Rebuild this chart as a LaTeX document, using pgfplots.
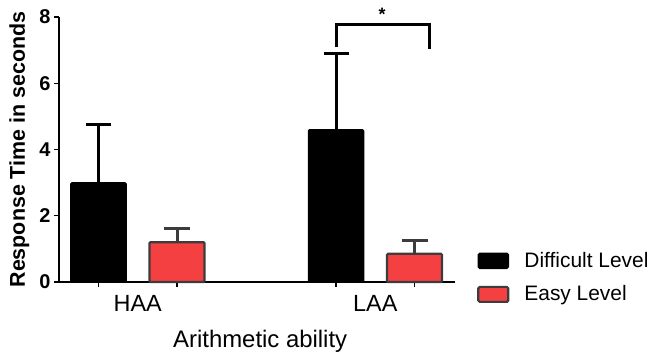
\documentclass[border=0pt]{standalone}
\usepackage{fontspec}
\setmainfont{Liberation Sans}
\usepackage{pgfplots}
\pgfplotsset{compat=1.18}
\definecolor{easyred}{RGB}{244,64,64}
\definecolor{edgegray}{RGB}{60,60,60}
\begin{document}
\begin{tikzpicture}
\begin{axis}[
  at={(0,0)}, anchor=south west,
  scale only axis, width=396bp, height=265bp,
  xmin=0, xmax=396, ymin=0, ymax=8,
  clip=false,
  axis x line=bottom, axis y line=left,
  axis line style={-, line width=1.4bp, black},
  tick align=outside,
  major tick length=5bp,
  /pgf/number format/assume math mode=true,
  ytick={0,2,4,6,8},
  yticklabel style={font=\fontsize{20}{24}\selectfont\bfseries},
  y tick style={line width=1.4bp, black},
  xtick={39.5,118,277,355.5},
  xticklabels={},
  x tick style={line width=1.4bp, black},
  extra x ticks={78.75,316.25},
  extra x tick labels={HAA,LAA},
  extra x tick style={x tick style={draw=none}, xticklabel style={font=\fontsize{23.5}{28}\selectfont, yshift=-5bp}},
  ylabel={Response Time in seconds},
  ylabel style={font=\fontsize{21.5}{26}\selectfont\bfseries, at={(axis description cs:-0.1,0.5)}, anchor=center},
  xlabel={Arithmetic ability},
  xlabel style={font=\fontsize{24}{28}\selectfont, at={(axis description cs:0.508,-0.249)}, anchor=base},
  legend style={at={(axis description cs:1.0556,0.114)}, anchor=north west, draw=none, fill=none, inner sep=0pt,
    nodes={inner sep=0pt},
    font=\fontsize{21}{25}\selectfont, row sep=16.5bp,
    /tikz/every odd column/.append style={column sep=15bp}},
  legend cell align=left,
]
\addplot[ybar, bar width=55, bar shift=0pt, fill=black, draw=black, line width=1.5bp, rounded corners=1bp,
  legend image code/.code={\draw[fill=black, draw=black, line width=1.5bp, rounded corners=1.5bp] (0bp,-8bp) rectangle (30bp,7bp);},
  error bars/.cd, y dir=plus, y explicit,
  error bar style={line width=3bp, black, sharp corners},
  error mark options={rotate=90, mark size=12.5bp, line width=3bp, black}]
  coordinates {(39.5,2.99) +- (0,1.75) (277,4.59) +- (0,2.30)};
\addlegendentry{Difficult Level}
\addplot[ybar, bar width=55, bar shift=0pt, fill=easyred, draw=edgegray, line width=2.2bp, rounded corners=1bp,
  legend image code/.code={\draw[fill=easyred, draw=edgegray, line width=2.2bp, rounded corners=1.5bp] (0bp,-8bp) rectangle (30bp,7bp);},
  error bars/.cd, y dir=plus, y explicit,
  error bar style={line width=3bp, edgegray, sharp corners},
  error mark options={rotate=90, mark size=13bp, line width=3bp, edgegray}]
  coordinates {(118,1.20) +- (0,0.43) (355.5,0.85) +- (0,0.39)};
\addlegendentry{Easy Level}
\addplot[line width=3bp, black, sharp corners, forget plot] coordinates {(277,7.08) (277,7.76) (370,7.76) (370,7.04)};
\node[font=\fontsize{18}{21}\selectfont\bfseries] at (axis cs:323,8.07) {*};
\end{axis}
\pgfresetboundingbox
\path[use as bounding box] (-59bp,-74bp) rectangle (591bp,282bp);
\end{tikzpicture}
\end{document}
